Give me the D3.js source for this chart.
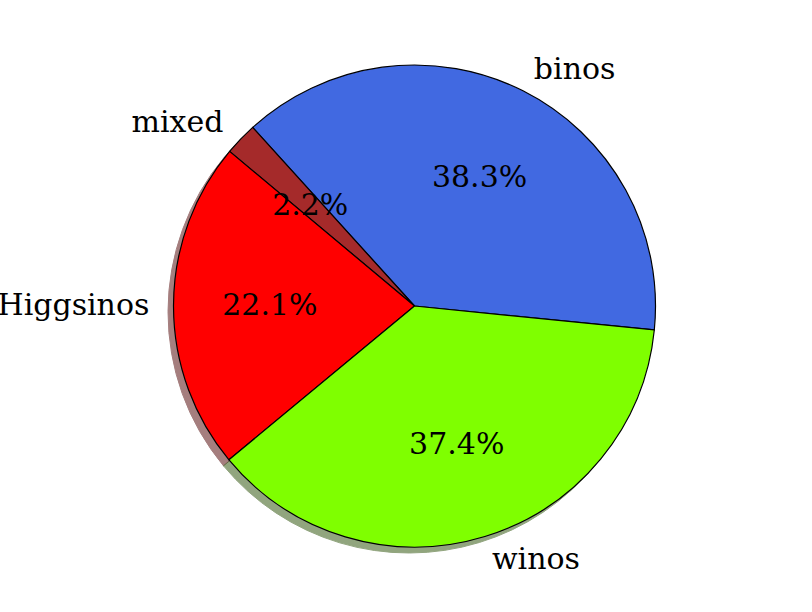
<!DOCTYPE html>
<html>
<head>
<meta charset="utf-8">
<script src="https://cdn.jsdelivr.net/npm/d3@7"></script>
<style>
  body { margin: 0; background: #fff; }
  text { font-family: "DejaVu Serif", serif; font-size: 30px; fill: #000; }
</style>
</head>
<body>
<svg id="chart" width="812" height="612"></svg>
<script>
// Slices in drawing order (counterclockwise from the binos/winos edge)
const labels = ['binos', 'mixed', 'Higgsinos', 'winos'];
const shares = [38.3, 2.2, 22.1, 37.4];
const colors = ['#4169e1', '#a52a2a', '#ff0000', '#7fff00'];

const width = 812, height = 612;
const cx = 414.5, cy = 306, radius = 241;
const startDeg = -5.7; // matplotlib-style angle, ccw from 3 o'clock

const svg = d3.select('#chart');

const data = labels.map((l, i) => ({ label: l, value: shares[i], color: colors[i] }));

// d3 angles are clockwise from 12 o'clock, so flip the direction
const a0 = (90 - startDeg) * Math.PI / 180;
const pie = d3.pie()
  .sort(null)
  .value(d => d.value)
  .startAngle(a0)
  .endAngle(a0 - 2 * Math.PI);

const arcs = pie(data);

const arc = d3.arc().innerRadius(0).outerRadius(radius);
const pctArc = d3.arc().innerRadius(radius * 0.6).outerRadius(radius * 0.6);
const labelArc = d3.arc().innerRadius(radius * 1.1).outerRadius(radius * 1.1);

const dark = c => {
  const r = d3.rgb(c);
  return d3.rgb(r.r * 0.3, r.g * 0.3, r.b * 0.3).toString();
};

// Shadow
svg.append('g')
  .attr('transform', `translate(${cx - 5.5}, ${cy + 6})`)
  .selectAll('path')
  .data(arcs)
  .enter()
  .append('path')
  .attr('d', arc)
  .attr('fill', d => dark(d.data.color))
  .attr('stroke', d => dark(d.data.color))
  .attr('stroke-width', 1)
  .attr('opacity', 0.5);

const g = svg.append('g')
  .attr('transform', `translate(${cx}, ${cy})`);

g.selectAll('path.slice')
  .data(arcs)
  .enter()
  .append('path')
  .attr('class', 'slice')
  .attr('d', arc)
  .attr('fill', d => d.data.color)
  .attr('stroke', '#000')
  .attr('stroke-width', 1.2)
  .attr('stroke-linejoin', 'round');

// Percent labels
g.selectAll('text.pct')
  .data(arcs)
  .enter()
  .append('text')
  .attr('class', 'pct')
  .attr('x', d => pctArc.centroid(d)[0])
  .attr('y', d => pctArc.centroid(d)[1])
  .attr('dy', '0.32em')
  .attr('text-anchor', 'middle')
  .text(d => d.data.value.toFixed(1) + '%');

// Outer labels
g.selectAll('text.lbl')
  .data(arcs)
  .enter()
  .append('text')
  .attr('class', 'lbl')
  .attr('x', d => labelArc.centroid(d)[0])
  .attr('y', d => labelArc.centroid(d)[1])
  .attr('dy', '0.32em')
  .attr('text-anchor', d => labelArc.centroid(d)[0] > 0 ? 'start' : 'end')
  .text(d => d.data.label);
</script>
</body>
</html>
